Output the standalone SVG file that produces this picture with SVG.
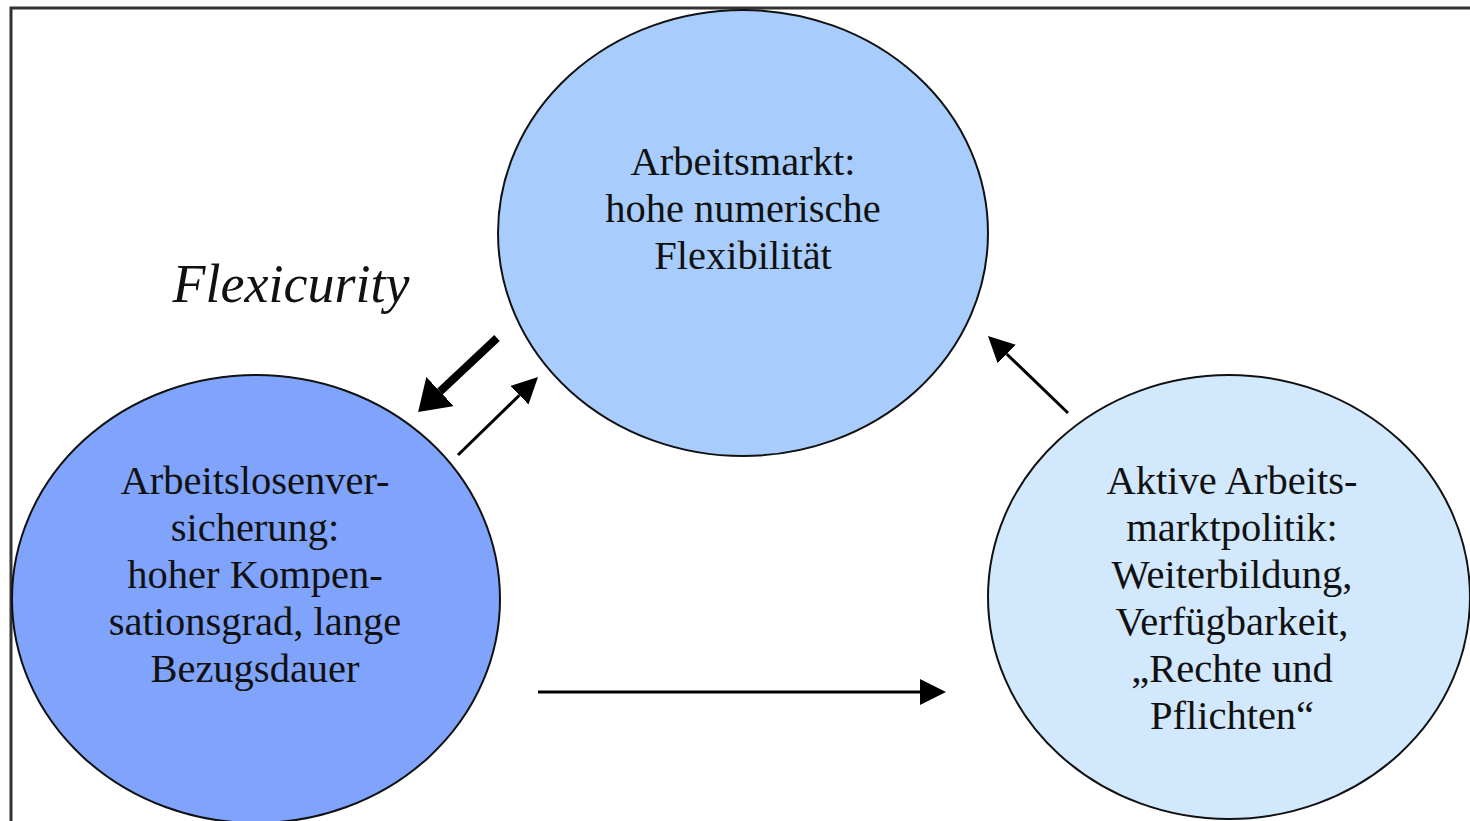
<svg xmlns="http://www.w3.org/2000/svg" width="1470" height="821" viewBox="0 0 1470 821">
<style>
.node{stroke:#111;stroke-width:2}
.t{font-family:"Liberation Serif","Times New Roman",serif;font-size:40.5px;fill:#111;text-anchor:middle}
.c{stroke:#000;fill:none}
</style>
<defs>
<marker id="ah" markerUnits="userSpaceOnUse" markerWidth="30" markerHeight="30" refX="0" refY="13" orient="auto"><path d="M0,0 L26,13 L0,26 Z" fill="#000"/></marker>
<marker id="ahb" markerUnits="userSpaceOnUse" markerWidth="34" markerHeight="42" refX="0" refY="20" orient="auto"><path d="M0,0 L30,20 L0,40 Z" fill="#000"/></marker>
</defs>
<rect width="1470" height="821" fill="#fff"/>
<path d="M11,821 V8 H1470" fill="none" stroke="#333" stroke-width="3"/>
<g id="node-arbeitsmarkt">
<ellipse class="node" cx="743" cy="233" rx="245" ry="223" fill="#a8cdfc"/>
<text class="t" x="743" y="175">Arbeitsmarkt:</text>
<text class="t" x="743" y="222">hohe numerische</text>
<text class="t" x="743" y="269">Flexibilität</text>
</g>
<g id="node-arbeitslosen">
<ellipse class="node" cx="256" cy="599" rx="244" ry="224" fill="#80a3fb"/>
<text class="t" x="255" y="494">Arbeitslosenver-</text>
<text class="t" x="255" y="541">sicherung:</text>
<text class="t" x="255" y="588">hoher Kompen-</text>
<text class="t" x="255" y="635">sationsgrad, lange</text>
<text class="t" x="255" y="682">Bezugsdauer</text>
</g>
<g id="node-aktive">
<ellipse class="node" cx="1229" cy="597" rx="241" ry="222" fill="#d2e8fd"/>
<text class="t" x="1232" y="494">Aktive Arbeits-</text>
<text class="t" x="1232" y="541">marktpolitik:</text>
<text class="t" x="1232" y="588">Weiterbildung,</text>
<text class="t" x="1232" y="635">Verfügbarkeit,</text>
<text class="t" x="1232" y="682">„Rechte und</text>
<text class="t" x="1232" y="729">Pflichten“</text>
</g>
<text x="291" y="302" font-family="Liberation Serif, Times New Roman, serif" font-style="italic" font-size="54" fill="#111" text-anchor="middle">Flexicurity</text>
<g id="connectors">
<line class="c" x1="497" y1="338" x2="440" y2="391.5" stroke-width="8" marker-end="url(#ahb)"/>
<line class="c" x1="458" y1="455" x2="519.4" y2="395.2" stroke-width="3" marker-end="url(#ah)"/>
<line class="c" x1="1068" y1="413" x2="1006.7" y2="354" stroke-width="3" marker-end="url(#ah)"/>
<line class="c" x1="538" y1="692" x2="920" y2="692" stroke-width="3" marker-end="url(#ah)"/>
</g>
</svg>
